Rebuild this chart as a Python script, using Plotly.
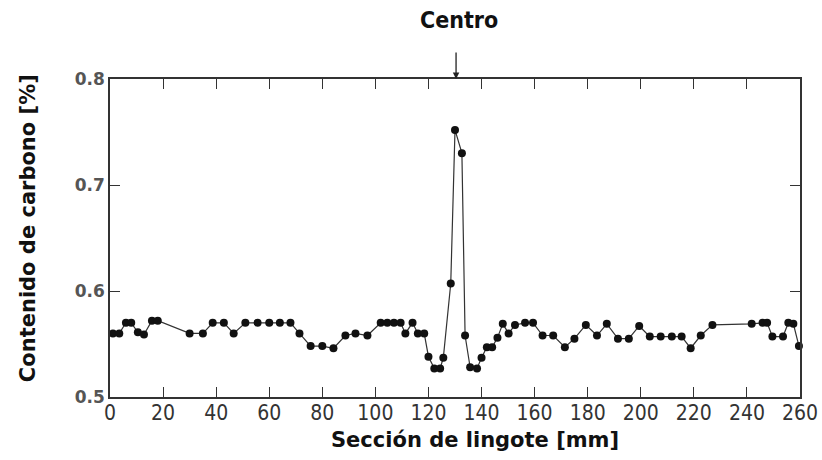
import plotly.graph_objects as go

seccion_mm = [1.1, 3.5, 6, 8, 10.5, 12.8, 15.8, 18, 30, 35, 38.7, 42.9, 46.6, 51, 55.6,
              60, 64, 68, 71.4, 75.6, 80, 84.2, 88.7, 92.5, 97, 102, 104.5, 107, 109.5,
              111.3, 114, 116, 118.4, 120, 122.2, 124.4, 125.6, 128.4, 130, 132.6, 133.8,
              135.7, 138.3, 140, 142, 144, 146, 148, 150.2, 152.6, 156.4, 159.4, 163, 167,
              171.4, 175, 179.3, 183.5, 187.2, 191.4, 195.5, 199.4, 203.4, 207.5, 211.7,
              215.4, 218.8, 222.6, 227, 241.8, 245.9, 247.6, 249.6, 253.6, 255.6, 257.5,
              259.6]
carbono_pct = [0.56, 0.56, 0.57, 0.57, 0.561, 0.559, 0.572, 0.572, 0.56, 0.56, 0.57, 0.57,
               0.56, 0.57, 0.57, 0.57, 0.57, 0.57, 0.56, 0.548, 0.548, 0.546, 0.558, 0.56,
               0.558, 0.57, 0.57, 0.57, 0.57, 0.56, 0.57, 0.56, 0.56, 0.538, 0.527, 0.527,
               0.537, 0.607, 0.752, 0.73, 0.558, 0.528, 0.527, 0.537, 0.547, 0.547, 0.556,
               0.569, 0.56, 0.568, 0.57, 0.57, 0.558, 0.558, 0.547, 0.555, 0.568, 0.558,
               0.569, 0.555, 0.555, 0.567, 0.557, 0.557, 0.557, 0.557, 0.546, 0.558, 0.568,
               0.569, 0.57, 0.57, 0.557, 0.557, 0.57, 0.569, 0.548]

x_ticks = list(range(0, 261, 20))
y_ticks = [0.5, 0.6, 0.7, 0.8]
centro_x = 130.4
x_title = "Sección de lingote [mm]"
y_title = "Contenido de carbono [%]"
centro_label = "Centro"

fig = go.Figure()
fig.add_trace(go.Scatter(
    x=seccion_mm, y=carbono_pct, mode="lines+markers",
    line=dict(color="#333333", width=1.2),
    marker=dict(color="#111111", size=8),
    cliponaxis=False, showlegend=False,
))

axis_common = dict(
    showline=True, linecolor="#333333", linewidth=1.6, mirror="ticks",
    ticks="inside", ticklen=10, tickwidth=1.4, tickcolor="#333333",
    showgrid=False, zeroline=False, automargin=False,
)

fig.update_xaxes(
    range=[0, 260], tickvals=x_ticks, ticklabelstandoff=-4,
    tickfont=dict(family="DejaVu Sans Condensed, Liberation Sans Narrow, Arial Narrow", size=21, color="#333333"),
    **axis_common,
)
fig.update_yaxes(
    range=[0.5, 0.8], tickvals=y_ticks, tickformat=".1f",
    tickfont=dict(family="DejaVu Sans, Verdana", size=17, color="#555555", weight="bold"),
    **axis_common,
)

title_font = dict(family="DejaVu Sans, Verdana", size=21, color="#111111")
fig.add_annotation(x=0.529, y=0, xref="paper", yref="paper", yshift=-43,
                   xanchor="center", yanchor="middle",
                   text=f"<b>{x_title}</b>", showarrow=False, font=title_font)
fig.add_annotation(x=0, y=0.531, xref="paper", yref="paper", xshift=-82, textangle=-90,
                   xanchor="center", yanchor="middle",
                   text=f"<b>{y_title}</b>", showarrow=False, font=title_font)

fig.add_annotation(x=centro_x, y=0.8, xref="x", yref="y", text="", showarrow=True,
                   ax=0, ay=-28, arrowhead=2, arrowsize=1, arrowwidth=1.3, arrowcolor="#222222")
fig.add_annotation(x=centro_x, y=1, xref="x", yref="paper", yshift=59, xshift=3,
                   xanchor="center", yanchor="middle",
                   text=f"<b>{centro_label}</b>", showarrow=False,
                   font=dict(family="DejaVu Sans Condensed, DejaVu Sans", size=23, color="#111111"))

fig.update_layout(
    width=822, height=460,
    margin=dict(l=110, r=22, t=79, b=63),
    plot_bgcolor="white", paper_bgcolor="white",
)

fig.write_html("out.html", config={"displayModeBar": False},
               post_script="document.body.style.margin='0';")
